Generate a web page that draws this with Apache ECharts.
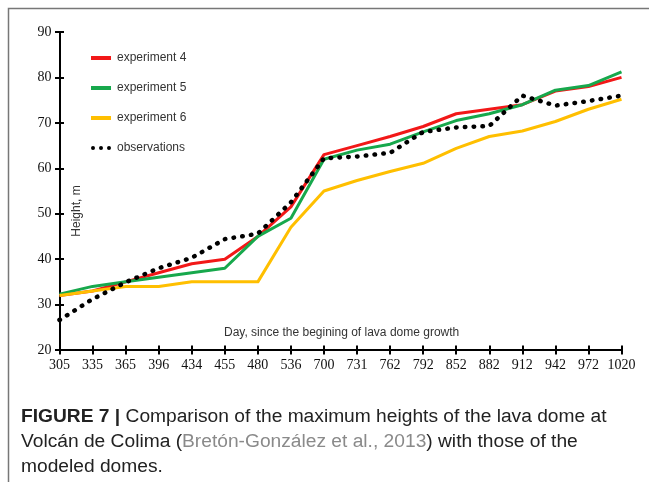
<!DOCTYPE html>
<html>
<head>
<meta charset="utf-8">
<script src="https://cdn.jsdelivr.net/npm/echarts@6/dist/echarts.min.js"></script>
<style>
  html, body { margin: 0; padding: 0; background: #fff; }
  #chart { width: 649px; height: 482px; }
</style>
</head>
<body>
<div id="chart"></div>
<script>
// Day since the beginning of lava dome growth
const days = ['305', '335', '365', '396', '434', '455', '480', '536', '700', '731',
              '762', '792', '852', '882', '912', '942', '972', '1020'];

// Dome height (m) for each modelled experiment and the observed heights
const experiment4 = [32, 33, 35, 37, 39, 40, 45, 51.5, 63, 65, 67, 69.2, 72, 73, 74, 77, 78, 80];
const experiment5 = [32.3, 34, 35, 36, 37, 38, 45, 49, 62, 64, 65.3, 68, 70.5, 72, 74, 77.2, 78.2, 81.2];
const experiment6 = [32, 33, 34, 34, 35, 35, 35, 47, 55, 57.3, 59.3, 61.1, 64.4, 67, 68.2, 70.3, 73, 75.2];
const observations = [26.6, 31.2, 34.9, 38, 40.3, 44.4, 45.6, 52.5, 62.2, 62.6, 63.4, 68, 69, 69.3, 76, 73.8, 74.8, 76];

const yTicks = { min: 20, max: 90, interval: 10 };

const serifFont = '"Liberation Serif", "Times New Roman", serif';
const sansFont = '"Liberation Sans", Arial, sans-serif';

const chart = echarts.init(document.getElementById('chart'), null, { renderer: 'canvas' });

const grid = { left: 59.5, right: 27.5, top: 32, bottom: 132 };

const tickLen = 4.5;

const lineSeries = (name, data, color) => ({
  name, type: 'line', data, symbol: 'none', animation: false,
  lineStyle: { color, width: 3, join: 'round' },
  itemStyle: { color }
});

chart.setOption({
  backgroundColor: '#fff',
  animation: false,
  grid,
  legend: {
    orient: 'vertical',
    left: 86,
    top: 46,
    itemWidth: 20,
    itemHeight: 4,
    itemGap: 16,
    textStyle: { fontFamily: sansFont, fontSize: 12, color: '#333', padding: [0, 0, 0, 1], lineHeight: 14 },
    data: [
      { name: 'experiment 4', icon: 'rect' },
      { name: 'experiment 5', icon: 'rect' },
      { name: 'experiment 6', icon: 'rect' },
      { name: 'observations', icon: 'path://M0,2a2,2 0 1,0 4,0a2,2 0 1,0 -4,0M8,2a2,2 0 1,0 4,0a2,2 0 1,0 -4,0M16,2a2,2 0 1,0 4,0a2,2 0 1,0 -4,0' }
    ]
  },
  xAxis: [
    {
      type: 'category', data: days, boundaryGap: false,
      axisLine: { lineStyle: { color: '#000', width: 2 } },
      axisTick: { show: true, inside: false, interval: 0, length: tickLen, lineStyle: { color: '#000', width: 2 } },
      axisLabel: { fontFamily: serifFont, fontSize: 14, color: '#111', margin: 8, interval: 0 },
      splitLine: { show: false }
    },
    {
      type: 'category', data: days, boundaryGap: false, position: 'bottom',
      axisLine: { show: false },
      axisTick: { show: true, inside: true, interval: 0, length: tickLen, lineStyle: { color: '#000', width: 2 } },
      axisLabel: { show: false },
      splitLine: { show: false }
    }
  ],
  yAxis: [
    {
      type: 'value', min: yTicks.min, max: yTicks.max, interval: yTicks.interval,
      axisLine: { show: true, lineStyle: { color: '#000', width: 2 } },
      axisTick: { show: true, inside: false, length: tickLen, lineStyle: { color: '#000', width: 2 } },
      axisLabel: { fontFamily: serifFont, fontSize: 14, color: '#111', margin: 8 },
      splitLine: { show: false }
    },
    {
      type: 'value', min: yTicks.min, max: yTicks.max, interval: yTicks.interval, position: 'left',
      axisLine: { show: false },
      axisTick: { show: true, inside: true, length: tickLen, lineStyle: { color: '#000', width: 2 } },
      axisLabel: { show: false },
      splitLine: { show: false }
    }
  ],
  series: [
    lineSeries('experiment 4', experiment4, '#f21818'),
    lineSeries('experiment 5', experiment5, '#17a84c'),
    lineSeries('experiment 6', experiment6, '#ffbf00'),
    {
      name: 'observations', type: 'line', data: observations, symbol: 'none', animation: false,
      lineStyle: { color: '#000', width: 4.5, type: [0.5, 8.3], cap: 'round' },
      itemStyle: { color: '#000' },
      z: 5
    }
  ],
  graphic: [
    // frame around the figure
    {
      type: 'polyline', silent: true,
      shape: { points: [[8.5, 482], [8.5, 8.5], [649, 8.5]] },
      style: { stroke: '#777', lineWidth: 1.5, fill: null }
    },
    // axis titles drawn inside the plot
    {
      type: 'text', x: 77, y: 211, rotation: Math.PI / 2,
      style: { text: 'Height, m', fontFamily: sansFont, fontSize: 12, fill: '#333', align: 'center', verticalAlign: 'middle' }
    },
    {
      type: 'text', x: 224, y: 333,
      style: { text: 'Day, since the begining of lava dome growth', fontFamily: sansFont, fontSize: 12, fill: '#333', align: 'left', verticalAlign: 'middle' }
    },
    // caption
    {
      type: 'text', x: 21, y: 404,
      style: {
        text: '{b|FIGURE 7 |} Comparison of the maximum heights of the lava dome at\nVolcán de Colima ({g|Bretón-González et al., 2013}) with those of the\nmodeled domes.',
        fontFamily: sansFont, fontSize: 19.2, lineHeight: 25, fill: '#222',
        rich: {
          b: { fontFamily: sansFont, fontSize: 19.2, lineHeight: 25, fontWeight: 'bold', fill: '#222' },
          g: { fontFamily: sansFont, fontSize: 19.2, lineHeight: 25, fill: '#8a8a8a' }
        }
      }
    }
  ]
});
</script>
</body>
</html>
